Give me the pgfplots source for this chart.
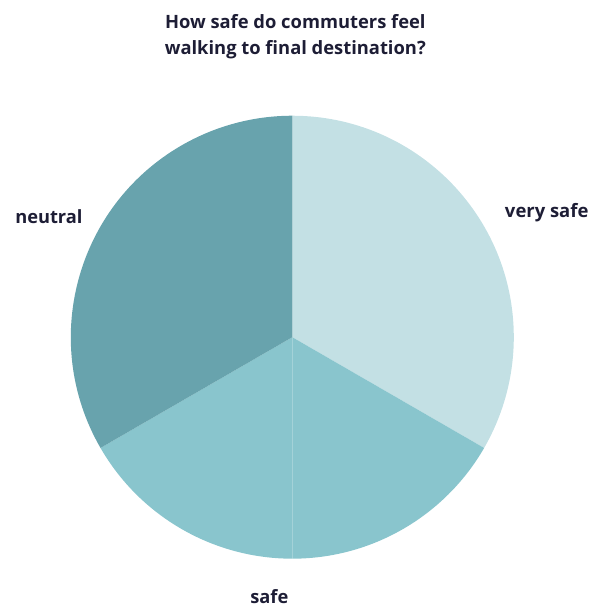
\documentclass[border=0pt]{standalone}
\usepackage{pgfplots}
\pgfplotsset{compat=1.18}
\usepackage{pgfplotstable}
\usepackage{fontspec}
\setmainfont{Open Sans}
\definecolor{vsafe}{HTML}{C3E0E4}
\definecolor{csafe}{HTML}{89C5CD}
\definecolor{neut}{HTML}{68A3AD}
\definecolor{ink}{HTML}{1D1D35}

\pgfplotstableread[col sep=comma]{
label,value,color
very safe,2,vsafe
safe,1,csafe
safe,1,csafe
neutral,2,neut
}\piedata

\begin{document}
\begin{tikzpicture}
\pgfplotstablegetrowsof{\piedata}
\pgfmathtruncatemacro{\lastrow}{\pgfplotsretval-1}
\def\total{0}
\pgfplotsforeachungrouped \i in {0,...,\lastrow}{%
  \pgfplotstablegetelem{\i}{value}\of{\piedata}%
  \pgfmathsetmacro{\total}{\total+\pgfplotsretval}%
}
\def\angstart{90}
\gdef\slices{}
\pgfplotsforeachungrouped \i in {0,...,\lastrow}{%
  \pgfplotstablegetelem{\i}{value}\of{\piedata}%
  \pgfmathsetmacro{\angend}{\angstart-360*\pgfplotsretval/\total}%
  \pgfplotstablegetelem{\i}{color}\of{\piedata}%
  \edef\slicecolor{\pgfplotsretval}%
  \xdef\slices{\unexpanded\expandafter{\slices}\noexpand\fill[\slicecolor] (axis cs:293,268) -- ++(\angstart:222pt) arc[start angle=\angstart, end angle=\angend, radius=222pt] -- cycle;}%
  \let\angstart\angend
}
\begin{axis}[x=1pt,y=1pt,xmin=0,xmax=607,ymin=0,ymax=606,hide axis,clip=false,anchor=origin]
\path (rel axis cs:0,0) rectangle (rel axis cs:1,1);
\slices
\node[font=\bfseries\fontsize{18.4}{26}\selectfont, text=ink, align=center] at (axis cs:296,569) {How safe do commuters feel\\walking to final destination?};
\node[font=\bfseries\fontsize{18.5}{20}\selectfont, text=ink] at (axis cs:548,393) {very safe};
\node[font=\bfseries\fontsize{18.3}{20}\selectfont, text=ink] at (axis cs:49,389) {neutral};
\node[font=\bfseries\fontsize{18.3}{20}\selectfont, text=ink] at (axis cs:270,8) {safe};
\end{axis}
\end{tikzpicture}
\end{document}
